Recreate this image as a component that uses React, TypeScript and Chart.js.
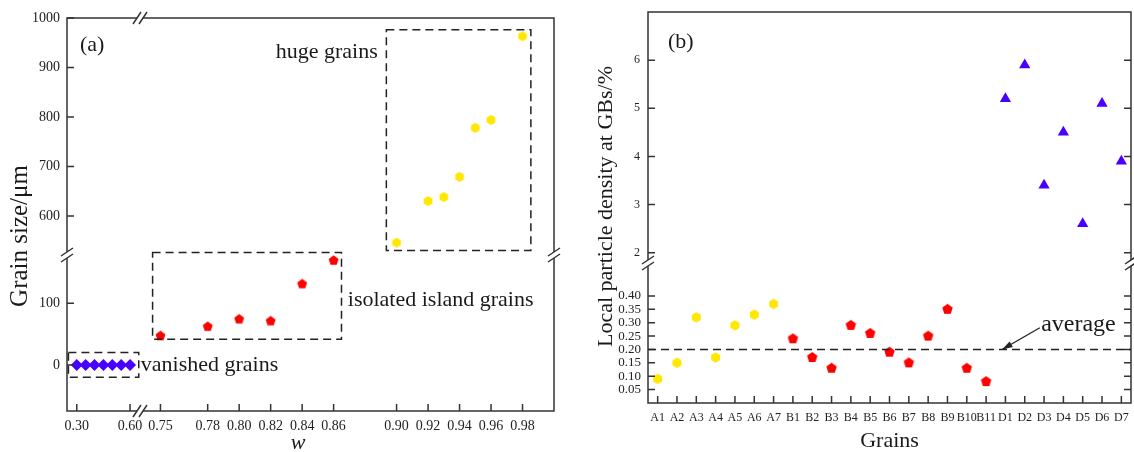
import React, { useEffect, useRef } from 'react';
import { Chart, registerables } from 'chart.js';
Chart.register(...registerables);

// ---------------- Panel (a) data ----------------
const VANISHED_W = [0.30, 0.35, 0.40, 0.45, 0.50, 0.55, 0.60];
const VANISHED_SIZE = [0, 0, 0, 0, 0, 0, 0];
const ISLAND_W = [0.75, 0.78, 0.80, 0.82, 0.84, 0.86];
const ISLAND_SIZE = [47, 62, 74, 71, 131, 169];
const HUGE_W = [0.90, 0.92, 0.93, 0.94, 0.95, 0.96, 0.98];
const HUGE_SIZE = [546, 630, 638, 679, 778, 794, 963];
const A_X_TICKS_LOW = [0.30, 0.60];
const A_X_TICKS_HIGH = [0.75, 0.78, 0.80, 0.82, 0.84, 0.86, 0.90, 0.92, 0.94, 0.96, 0.98];
const A_Y_TICKS_LOW = [0, 100];
const A_Y_TICKS_HIGH = [600, 700, 800, 900, 1000];
const A_X_RANGE_LOW = [0.245, 0.656];
const A_X_RANGE_HIGH = [0.737, 1.0];
const A_Y_RANGE_LOW = [-74.6, 178];
const A_Y_RANGE_HIGH = [521, 1000];
const BOX_VANISHED = [0.253, 0.649, -20, 20];
const BOX_ISLAND = [0.745, 0.865, 41.5, 182];
const BOX_HUGE = [0.8935, 0.9853, 530, 976];

// ---------------- Panel (b) data ----------------
const A_GRAINS = ['A1', 'A2', 'A3', 'A4', 'A5', 'A6', 'A7'];
const B_GRAINS = ['B1', 'B2', 'B3', 'B4', 'B5', 'B6', 'B7', 'B8', 'B9', 'B10', 'B11'];
const D_GRAINS = ['D1', 'D2', 'D3', 'D4', 'D5', 'D6', 'D7'];
const GRAINS = [...A_GRAINS, ...B_GRAINS, ...D_GRAINS];
const A_DENSITY = [0.09, 0.15, 0.32, 0.17, 0.29, 0.33, 0.37];
const B_DENSITY = [0.24, 0.17, 0.13, 0.29, 0.26, 0.19, 0.15, 0.25, 0.35, 0.13, 0.08];
const D_DENSITY = [5.2, 5.9, 3.4, 4.5, 2.6, 5.1, 3.9];
const AVERAGE = 0.20;
const B_Y_TICKS_LOW = [0.05, 0.10, 0.15, 0.20, 0.25, 0.30, 0.35, 0.40];
const B_Y_TICKS_HIGH = [2, 3, 4, 5, 6];
const B_Y_RANGE_LOW = [0, 0.523];
const B_Y_RANGE_HIGH = [1.785, 7.0];

const FONT = '"Liberation Serif", "Times New Roman", serif';
const AXIS = '#333333';
const TXT = '#1a1a1a';
const YELLOW = '#FFE800';
const RED = '#FF0000';
const BLUE = '#4800FF';

function polygon(sides: number, r: number, color: string) {
  const size = Math.ceil(r * 2 + 2);
  const c = document.createElement('canvas');
  c.width = size;
  c.height = size;
  const ctx = c.getContext('2d')!;
  ctx.fillStyle = color;
  ctx.beginPath();
  for (let i = 0; i < sides; i++) {
    const ang = -Math.PI / 2 + (i * 2 * Math.PI) / sides;
    const x = size / 2 + r * Math.cos(ang);
    const y = size / 2 + r * Math.sin(ang);
    if (i === 0) ctx.moveTo(x, y);
    else ctx.lineTo(x, y);
  }
  ctx.closePath();
  ctx.fill();
  return c;
}

const xy = (xs: any[], ys: number[]) => xs.map((x, i) => ({ x, y: ys[i] }));

function setTicks(list: number[]) {
  return (s: any) => {
    s.ticks = list.map((v) => ({ value: v }));
  };
}

function tickMarks(ctx: any, scale: any, side: string, area: any, len = 7) {
  ctx.beginPath();
  scale.ticks.forEach((t: any, i: number) => {
    const p = scale.getPixelForTick(i);
    if (side === 'left') { ctx.moveTo(area.left, p); ctx.lineTo(area.left + len, p); }
    if (side === 'right') { ctx.moveTo(area.right, p); ctx.lineTo(area.right - len, p); }
    if (side === 'bottom') { ctx.moveTo(p, area.bottom); ctx.lineTo(p, area.bottom - len); }
  });
  ctx.stroke();
}

function hBreak(ctx: any, x: number, y: number) {
  ctx.save();
  ctx.fillStyle = '#fff';
  ctx.fillRect(x - 3, y - 2, 6, 4);
  ctx.beginPath();
  [-3, 3].forEach((o) => {
    ctx.moveTo(x + o - 4, y + 6);
    ctx.lineTo(x + o + 4, y - 6);
  });
  ctx.stroke();
  ctx.restore();
}

function vBreak(ctx: any, x: number, y: number) {
  ctx.save();
  ctx.fillStyle = '#fff';
  ctx.fillRect(x - 2, y - 3, 4, 6);
  ctx.beginPath();
  [-3, 3].forEach((o) => {
    ctx.moveTo(x - 6, y + o + 4);
    ctx.lineTo(x + 6, y + o - 4);
  });
  ctx.stroke();
  ctx.restore();
}

function dashedBox(ctx: any, xs: any, ys: any, b: number[]) {
  const x0 = xs.getPixelForValue(b[0]);
  const x1 = xs.getPixelForValue(b[1]);
  const y0 = ys.getPixelForValue(b[2]);
  const y1 = ys.getPixelForValue(b[3]);
  ctx.save();
  ctx.setLineDash([8, 5]);
  ctx.strokeStyle = '#222';
  ctx.lineWidth = 1.5;
  ctx.strokeRect(x0, y1, x1 - x0, y0 - y1);
  ctx.restore();
}

function text(ctx: any, s: string, x: number, y: number, size: number, align = 'left', italic = false, rot = 0) {
  ctx.save();
  ctx.font = `${italic ? 'italic ' : ''}${size}px ${FONT}`;
  ctx.fillStyle = TXT;
  ctx.textAlign = align;
  ctx.textBaseline = 'middle';
  ctx.translate(x, y);
  if (rot) ctx.rotate(rot);
  ctx.fillText(s, 0, 0);
  ctx.restore();
}

const tickFont = (size: number) => ({ family: FONT, size });

function noPad(s: any) {
  s.paddingLeft = 0;
  s.paddingRight = 0;
  s.paddingTop = 0;
  s.paddingBottom = 0;
}

function linScale(range: number[], ticks: number[], pos: string, stack: string, weight: number, fmt: (v: number) => string, size: number, pad: number, fit: (s: any) => void) {
  return {
    type: 'linear',
    position: pos,
    stack,
    stackWeight: weight,
    min: range[0],
    max: range[1],
    afterBuildTicks: setTicks(ticks),
    afterFit: (s: any) => { fit(s); noPad(s); },
    grid: { display: false, drawTicks: false, tickLength: 0 },
    border: { display: false },
    ticks: { callback: (v: any) => fmt(Number(v)), font: tickFont(size), color: '#222', padding: pad, autoSkip: false, maxRotation: 0 },
  };
}

function configA(): any {
  const pent = polygon(5, 5.2, RED);
  const hex = polygon(6, 5, YELLOW);
  const fitY = (s: any) => { s.width = 67; };
  const fitX = (s: any) => { s.height = 41; };
  const plugin = {
    id: 'decorA',
    afterDraw(chart: any) {
      const { ctx, chartArea: a, scales } = chart;
      const { xL, xR, yL, yH } = scales;
      ctx.save();
      ctx.strokeStyle = AXIS;
      ctx.lineWidth = 1.5;
      ctx.strokeRect(a.left, a.top, a.right - a.left, a.bottom - a.top);
      tickMarks(ctx, yL, 'left', a);
      tickMarks(ctx, yH, 'left', a);
      tickMarks(ctx, xL, 'bottom', a);
      tickMarks(ctx, xR, 'bottom', a);
      hBreak(ctx, xL.right, a.top);
      hBreak(ctx, xL.right, a.bottom);
      vBreak(ctx, a.left, yL.top);
      vBreak(ctx, a.right, yL.top);
      dashedBox(ctx, xL, yL, BOX_VANISHED);
      dashedBox(ctx, xR, yL, BOX_ISLAND);
      dashedBox(ctx, xR, yH, BOX_HUGE);
      text(ctx, '(a)', a.left + 13, a.top + 27, 22);
      text(ctx, 'huge grains', xR.getPixelForValue(0.888), yH.getPixelForValue(931), 22, 'right');
      text(ctx, 'isolated island grains', xR.getPixelForValue(0.869), yL.getPixelForValue(104), 22);
      text(ctx, 'vanished grains', xL.getPixelForValue(BOX_VANISHED[1]) + 2, yL.getPixelForValue(0), 22);
      text(ctx, 'w', xR.getPixelForValue(0.8375), a.bottom + 32, 22, 'center', true);
      text(ctx, 'Grain size/\u03bcm', 20, 236, 25, 'center', false, -Math.PI / 2);
      ctx.restore();
    },
  };
  return {
    type: 'scatter',
    data: {
      datasets: [
        { data: xy(VANISHED_W, VANISHED_SIZE), xAxisID: 'xL', yAxisID: 'yL', pointStyle: 'rectRot', pointRadius: 6, backgroundColor: BLUE, borderWidth: 0 },
        { data: xy(ISLAND_W, ISLAND_SIZE), xAxisID: 'xR', yAxisID: 'yL', pointStyle: pent, pointRadius: 5 },
        { data: xy(HUGE_W, HUGE_SIZE), xAxisID: 'xR', yAxisID: 'yH', pointStyle: hex, pointRadius: 5 },
      ],
    },
    options: {
      responsive: false,
      animation: false,
      layout: { autoPadding: false, padding: { left: 0, right: 13, top: 18, bottom: 0 } },
      plugins: { legend: { display: false }, tooltip: { enabled: false } },
      scales: {
        xL: linScale(A_X_RANGE_LOW, A_X_TICKS_LOW, 'bottom', 'ax', 73, (v) => v.toFixed(2), 14, 7, fitX),
        xR: linScale(A_X_RANGE_HIGH, A_X_TICKS_HIGH, 'bottom', 'ax', 414, (v) => v.toFixed(2), 14, 7, fitX),
        yL: linScale(A_Y_RANGE_LOW, A_Y_TICKS_LOW, 'left', 'ay', 156, (v) => String(v), 14, 7, fitY),
        yH: linScale(A_Y_RANGE_HIGH, A_Y_TICKS_HIGH, 'left', 'ay', 237, (v) => String(v), 14, 7, fitY),
      },
    },
    plugins: [plugin],
  };
}

function configB(): any {
  const pent = polygon(5, 5.5, RED);
  const hex = polygon(6, 5.2, YELLOW);
  const fitY = (s: any) => { s.width = 81; };
  const fitX = (s: any) => { s.height = 49; };
  const plugin = {
    id: 'decorB',
    afterDraw(chart: any) {
      const { ctx, chartArea: a, scales } = chart;
      const { x, yL, yH } = scales;
      ctx.save();
      ctx.strokeStyle = AXIS;
      ctx.lineWidth = 1.5;
      ctx.strokeRect(a.left, a.top, a.right - a.left, a.bottom - a.top);
      tickMarks(ctx, yL, 'left', a);
      tickMarks(ctx, yH, 'left', a);
      tickMarks(ctx, yL, 'right', a);
      tickMarks(ctx, yH, 'right', a);
      tickMarks(ctx, x, 'bottom', a);
      vBreak(ctx, a.left, yL.top);
      vBreak(ctx, a.right, yL.top);
      // average line
      const ay = yL.getPixelForValue(AVERAGE);
      ctx.save();
      ctx.setLineDash([8, 5]);
      ctx.strokeStyle = '#222';
      ctx.beginPath();
      ctx.moveTo(a.left, ay);
      ctx.lineTo(a.right, ay);
      ctx.stroke();
      ctx.restore();
      // arrow
      const tx = x.getPixelForValue(17.83), ty = ay;
      const sx = x.getPixelForValue(19.78), sy = yL.getPixelForValue(0.281);
      ctx.strokeStyle = '#222';
      ctx.lineWidth = 1.3;
      ctx.beginPath();
      ctx.moveTo(sx, sy);
      ctx.lineTo(tx, ty);
      ctx.stroke();
      const ang = Math.atan2(ty - sy, tx - sx);
      ctx.fillStyle = '#222';
      ctx.beginPath();
      ctx.moveTo(tx, ty);
      ctx.lineTo(tx - 11 * Math.cos(ang - 0.3), ty - 11 * Math.sin(ang - 0.3));
      ctx.lineTo(tx - 11 * Math.cos(ang + 0.3), ty - 11 * Math.sin(ang + 0.3));
      ctx.closePath();
      ctx.fill();
      text(ctx, 'average', x.getPixelForValue(19.85), yL.getPixelForValue(0.294), 24);
      text(ctx, '(b)', a.left + 20, a.top + 30, 22);
      text(ctx, 'Grains', (a.left + a.right) / 2, a.bottom + 38, 22, 'center');
      text(ctx, 'Local particle density at GBs/%', 39, (a.top + a.bottom) / 2 - 1, 22, 'center', false, -Math.PI / 2);
      ctx.restore();
    },
  };
  return {
    type: 'line',
    data: {
      labels: GRAINS,
      datasets: [
        { data: xy(A_GRAINS, A_DENSITY), yAxisID: 'yL', showLine: false, pointStyle: hex, pointRadius: 5 },
        { data: xy(B_GRAINS, B_DENSITY), yAxisID: 'yL', showLine: false, pointStyle: pent, pointRadius: 5 },
        { data: xy(D_GRAINS, D_DENSITY), yAxisID: 'yH', showLine: false, pointStyle: 'triangle', pointRadius: 6.5, backgroundColor: BLUE, borderColor: BLUE, borderWidth: 0 },
      ],
    },
    options: {
      responsive: false,
      animation: false,
      layout: { autoPadding: false, padding: { left: 0, right: 3, top: 12, bottom: 0 } },
      plugins: { legend: { display: false }, tooltip: { enabled: false } },
      scales: {
        x: {
          type: 'category',
          labels: GRAINS,
          offset: true,
          position: 'bottom',
          afterFit: (s: any) => { fitX(s); noPad(s); },
          grid: { display: false, drawTicks: false, tickLength: 0 },
          border: { display: false },
          ticks: { font: tickFont(12), color: '#222', padding: 8, autoSkip: false, maxRotation: 0 },
        },
        yL: linScale(B_Y_RANGE_LOW, B_Y_TICKS_LOW, 'left', 'by', 140, (v) => v.toFixed(2), 13, 7, fitY),
        yH: linScale(B_Y_RANGE_HIGH, B_Y_TICKS_HIGH, 'left', 'by', 251, (v) => String(v), 12, 8, fitY),
      },
    },
    plugins: [plugin],
  };
}

export default function App() {
  const refA = useRef<HTMLCanvasElement>(null);
  const refB = useRef<HTMLCanvasElement>(null);
  useEffect(() => {
    const ca = new Chart(refA.current!, configA());
    const cb = new Chart(refB.current!, configB());
    return () => {
      ca.destroy();
      cb.destroy();
    };
  }, []);
  return (
    <div style={{ position: 'fixed', left: 0, top: 0, width: 1134, height: 452, background: '#fff', display: 'flex' }}>
      <canvas ref={refA} width={567} height={452} style={{ display: 'block' }} />
      <canvas ref={refB} width={567} height={452} style={{ display: 'block' }} />
    </div>
  );
}
